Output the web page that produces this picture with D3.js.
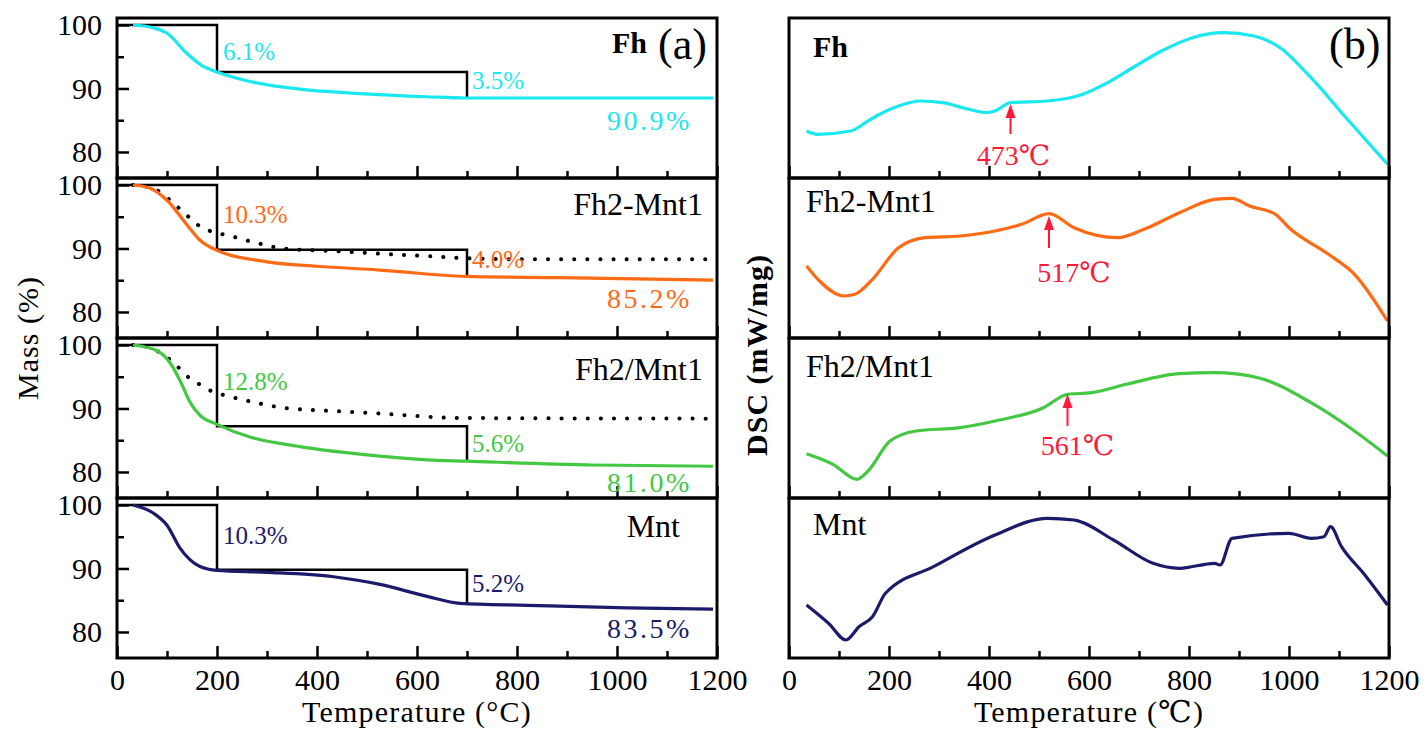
<!DOCTYPE html>
<html>
<head>
<meta charset="utf-8">
<script src="https://cdn.jsdelivr.net/npm/d3@7"></script>
<style>
  body { margin: 0; background: #fff; }
  svg text { font-family: "Liberation Serif", "Times New Roman", Times, "DejaVu Serif", serif; }
</style>
</head>
<body>
<div id="chart"></div>
<script>
// sample names and the loss / residue labels
const samples = ["Fh", "Fh2-Mnt1", "Fh2/Mnt1", "Mnt"];
const lossLow = ["6.1%", "10.3%", "12.8%", "10.3%"];
const lossHigh = ["3.5%", "4.0%", "5.6%", "5.2%"];
const residue = ["90.9%", "85.2%", "81.0%", "83.5%"];
const peakLabels = ["473℃", "517℃", "561℃"];
const xTicks = [0, 200, 400, 600, 800, 1000, 1200];
const massTicks = [80, 90, 100];

// TGA curves (temperature °C, mass %)
const fhT = [32, 70, 100, 140, 170, 200, 266, 366, 486, 620, 698, 800, 1000, 1192];
const fhM = [100, 99.6, 98.7, 95.5, 93.6, 92.6, 91.1, 89.9, 89.2, 88.7, 88.5, 88.5, 88.5, 88.5];
const fhMntT = [32, 66, 100, 140, 166, 200, 300, 400, 526, 698, 886, 1192];
const fhMntM = [100, 99.5, 97.6, 93.7, 91.3, 89.7, 87.9, 87.2, 86.6, 85.6, 85.4, 85.0];
const fhMixT = [32, 80, 106, 126, 146, 166, 200, 266, 366, 486, 620, 698, 952, 1192];
const fhMixM = [100, 99.1, 97.2, 94.4, 91.0, 88.9, 87.5, 85.5, 84.0, 82.8, 81.9, 81.7, 81.1, 80.9];
const mntT = [32, 73, 100, 126, 166, 200, 300, 433, 526, 620, 686, 820, 1020, 1192];
const mntM = [100, 98.7, 96.8, 93.2, 90.3, 89.7, 89.4, 88.7, 87.5, 85.6, 84.5, 84.2, 83.8, 83.6];

// dotted reference curves in the two mixed panels
const refMntT = [32, 60, 86, 113, 136, 162, 188, 220, 273, 333, 433, 520, 620, 686, 820, 1192];
const refMntM = [100, 99.7, 98.9, 97.1, 95.5, 93.7, 92.7, 92.1, 91.0, 90.0, 89.6, 89.2, 88.8, 88.5, 88.3, 88.3];
const refMixT = [32, 60, 86, 116, 140, 165, 193, 220, 273, 333, 433, 526, 686, 1192];
const refMixM = [100, 99.7, 98.8, 97.0, 95.1, 93.8, 92.6, 92.0, 91.0, 90.1, 89.6, 89.2, 88.5, 88.4];

// mass at the 200 °C and 700 °C steps of the black guide boxes
const stepMass200 = [92.6, 89.8, 87.2, 89.8];
const stepMass700 = [88.5, 85.6, 81.7, 84.5];

// DSC curves (arbitrary units, 0-160 per panel)
const dscFhT = [35, 57, 123, 158, 175, 219, 263, 307, 360, 395, 412, 443, 517, 588, 631, 693, 745, 807, 868, 930, 982, 1044, 1114, 1197];
const dscFhV = [47, 43.7, 47, 57, 62, 72, 77, 75.3, 68.7, 65.3, 67, 75.3, 77, 83.7, 93.7, 112, 127, 140.3, 145.3, 142, 130.3, 100.3, 60.3, 13.7];
const dscFhMntT = [35, 61, 110, 132, 167, 219, 272, 342, 412, 465, 520, 570, 658, 710, 781, 851, 886, 921, 973, 1000, 1079, 1131, 1197];
const dscFhMntV = [72, 57, 42, 43.7, 58.7, 90.3, 100.3, 102, 107, 113.7, 124.3, 110.3, 100.3, 108.7, 125.3, 138.7, 139.7, 132, 123.7, 110.3, 83.7, 63.7, 17];
const dscFhMixT = [35, 88, 136, 158, 202, 254, 342, 412, 509, 557, 605, 675, 781, 851, 938, 1044, 1131, 1197];
const dscFhMixV = [44.3, 33.7, 18.7, 27, 57, 67, 70.3, 77, 90.3, 103.7, 105.3, 113.7, 124.3, 125.3, 120.3, 95.3, 67, 42];
const dscMntT = [35, 79, 114, 140, 167, 193, 289, 412, 517, 570, 649, 728, 781, 851, 862, 886, 1000, 1044, 1070, 1083, 1105, 1149, 1197];
const dscMntV = [53, 34.7, 18, 31.3, 41.3, 64.7, 91.3, 123, 139.7, 138, 118, 94.7, 89.7, 94.7, 93, 119.7, 124.7, 119.7, 121.3, 131.3, 111.3, 84.7, 53];

// peak arrows: temperature, arrow tip and tail (DSC units)
const peakT = [443, 520, 557];
const peakTip = [74, 122, 104];
const peakTail = [44, 90, 72];

const colors = ["#19e8ee", "#ff6a14", "#44c844", "#1c1a6a"];
const zip = (a, b) => a.map((t, i) => [t, b[i]]);

const tga = [zip(fhT, fhM), zip(fhMntT, fhMntM), zip(fhMixT, fhMixM), zip(mntT, mntM)];
const refs = [null, zip(refMntT, refMntM), zip(refMixT, refMixM), null];
const dsc = [zip(dscFhT, dscFhV), zip(dscFhMntT, dscFhMntV), zip(dscFhMixT, dscFhMixV), zip(dscMntT, dscMntV)];

const svg = d3.select("#chart").append("svg")
  .attr("width", 1427).attr("height", 731)
  .attr("font-family", "Liberation Serif, DejaVu Serif, serif");
svg.append("rect").attr("width", 1427).attr("height", 731).attr("fill", "#fff");

const tops = [18, 178, 338, 498], ph = 160;
const xA = d3.scaleLinear().domain([0, 1200]).range([117, 717]);
const xB = d3.scaleLinear().domain([0, 1200]).range([789, 1389]);

function bottomTicks(g, x, y0, last) {
  g.append("g").attr("transform", `translate(0,${y0})`)
    .call(d3.axisBottom(x).tickValues([100, 300, 500, 700, 900, 1100]).tickSize(-7).tickFormat(""))
    .call(a => a.select(".domain").remove());
  const ax = g.append("g").attr("transform", `translate(0,${y0})`)
    .call(d3.axisBottom(x).tickValues(xTicks).tickSize(-12).tickPadding(11)
      .tickFormat(last ? d3.format("d") : ""));
  ax.select(".domain").remove();
  ax.selectAll("text").style("font-size", "30px").attr("fill", "#000");
  g.selectAll("g").attr("font-family", null);
  g.selectAll(".tick line").attr("stroke", "#000").attr("stroke-width", 2.5);
}

samples.forEach((name, i) => {
  const top = tops[i], bot = top + ph;
  const y = d3.scaleLinear().domain([75.9, 101.1]).range([bot, top]);
  const line = d3.line().x(d => xA(d[0])).y(d => y(d[1])).curve(d3.curveMonotoneX);
  const g = svg.append("g");

  // guide box
  g.append("path")
    .attr("d", d3.line()([[xA(0), y(100)], [xA(200), y(100)], [xA(200), y(stepMass200[i])],
      [xA(700), y(stepMass200[i])], [xA(700), y(stepMass700[i])]]))
    .attr("fill", "none").attr("stroke", "#000").attr("stroke-width", 2.5);

  if (refs[i]) {
    g.append("path").attr("d", line(refs[i]))
      .attr("fill", "none").attr("stroke", "#000").attr("stroke-width", 4)
      .attr("stroke-linecap", "round").attr("stroke-dasharray", "0.1 13");
  }
  g.append("path").attr("d", line(tga[i]))
    .attr("fill", "none").attr("stroke", colors[i]).attr("stroke-width", 3.2);

  // y axis
  g.append("g").attr("transform", `translate(${xA(0)},0)`)
    .call(d3.axisLeft(y).tickValues([85, 95]).tickSize(-7).tickFormat(""))
    .call(a => a.select(".domain").remove());
  const ya = g.append("g").attr("transform", `translate(${xA(0)},0)`)
    .call(d3.axisLeft(y).tickValues(massTicks).tickSize(-12).tickPadding(15));
  ya.select(".domain").remove();
  ya.selectAll("text").style("font-size", "30px").attr("fill", "#000").attr("dy", "0.33em");

  bottomTicks(g, xA, bot, i === 3);

  g.append("rect").attr("x", xA(0)).attr("y", top).attr("width", xA(1200) - xA(0)).attr("height", ph)
    .attr("fill", "none").attr("stroke", "#000").attr("stroke-width", 3);

  // percentages
  const offs = [[42, 71, 112], [45, 90, 130], [52, 114, 154], [46, 94, 140]][i];
  g.append("text").attr("x", xA(212)).attr("y", top + offs[0]).text(lossLow[i])
    .attr("fill", colors[i]).style("font-size", "25px");
  g.append("text").attr("x", xA(710)).attr("y", top + offs[1]).text(lossHigh[i])
    .attr("fill", colors[i]).style("font-size", "25px");
  g.append("text").attr("x", xA(980)).attr("y", top + offs[2]).text(residue[i])
    .attr("fill", colors[i]).style("font-size", "28px").style("letter-spacing", "2.5px");

  // sample name
  const nameEnd = [647, 703, 703, 680][i];
  const nameY = [35, 37, 42, 39][i];
  g.append("text").attr("x", nameEnd).attr("y", top + nameY).attr("text-anchor", "end")
    .text(name).style("font-size", i === 0 ? "30px" : "32px")
    .style("font-weight", i === 0 ? "bold" : "normal");
});

svg.append("text").attr("x", 658).attr("y", 59).text("(a)").style("font-size", "44px");

// panel (b)
samples.forEach((name, i) => {
  const top = tops[i], bot = top + ph;
  const y = d3.scaleLinear().domain([0, 160]).range([bot, top]);
  const line = d3.line().x(d => xB(d[0])).y(d => y(d[1])).curve(d3.curveMonotoneX);
  const g = svg.append("g");

  g.append("path").attr("d", line(dsc[i]))
    .attr("fill", "none").attr("stroke", colors[i]).attr("stroke-width", 3.2);

  if (i < 3) {
    const ax = xB(peakT[i]);
    g.append("line").attr("x1", ax).attr("x2", ax)
      .attr("y1", y(peakTip[i]) + 10).attr("y2", y(peakTail[i]))
      .attr("stroke", "#ff1a3a").attr("stroke-width", 2);
    g.append("path")
      .attr("d", `M${ax},${y(peakTip[i])} L${ax - 5},${y(peakTip[i]) + 14} L${ax + 5},${y(peakTip[i]) + 14} Z`)
      .attr("fill", "#ff1a3a");
    const labelOff = [147, 104, 117][i];
    g.append("text").attr("x", ax + [3, 25, 10][i]).attr("y", top + labelOff)
      .attr("text-anchor", "middle").text(peakLabels[i])
      .attr("fill", "#ff1a3a").style("font-size", "28px");
  }

  bottomTicks(g, xB, bot, i === 3);

  g.append("rect").attr("x", xB(0)).attr("y", top).attr("width", xB(1200) - xB(0)).attr("height", ph)
    .attr("fill", "none").attr("stroke", "#000").attr("stroke-width", 3);

  const nameX = [813, 806, 806, 813][i];
  const nameY = [39, 34, 39, 37][i];
  g.append("text").attr("x", nameX).attr("y", top + nameY)
    .text(name).style("font-size", i === 0 ? "30px" : "32px")
    .style("font-weight", i === 0 ? "bold" : "normal");
});

svg.append("text").attr("x", 1329).attr("y", 59).text("(b)").style("font-size", "44px");

// axis titles
svg.append("text").attr("x", xA(600)).attr("y", 722).attr("text-anchor", "middle")
  .text("Temperature (°C)").style("font-size", "30px").style("letter-spacing", "1.2px");
svg.append("text").attr("x", xB(600)).attr("y", 722).attr("text-anchor", "middle")
  .text("Temperature (℃)").style("font-size", "30px").style("letter-spacing", "1.2px");
svg.append("text").attr("transform", "translate(38,338) rotate(-90)").attr("text-anchor", "middle")
  .text("Mass (%)").style("font-size", "30px").style("letter-spacing", "1px");
svg.append("text").attr("transform", "translate(767,355) rotate(-90)").attr("text-anchor", "middle")
  .text("DSC (mW/mg)").style("font-size", "30px").style("font-weight", "bold")
  .style("letter-spacing", "1px");
</script>
</body>
</html>
